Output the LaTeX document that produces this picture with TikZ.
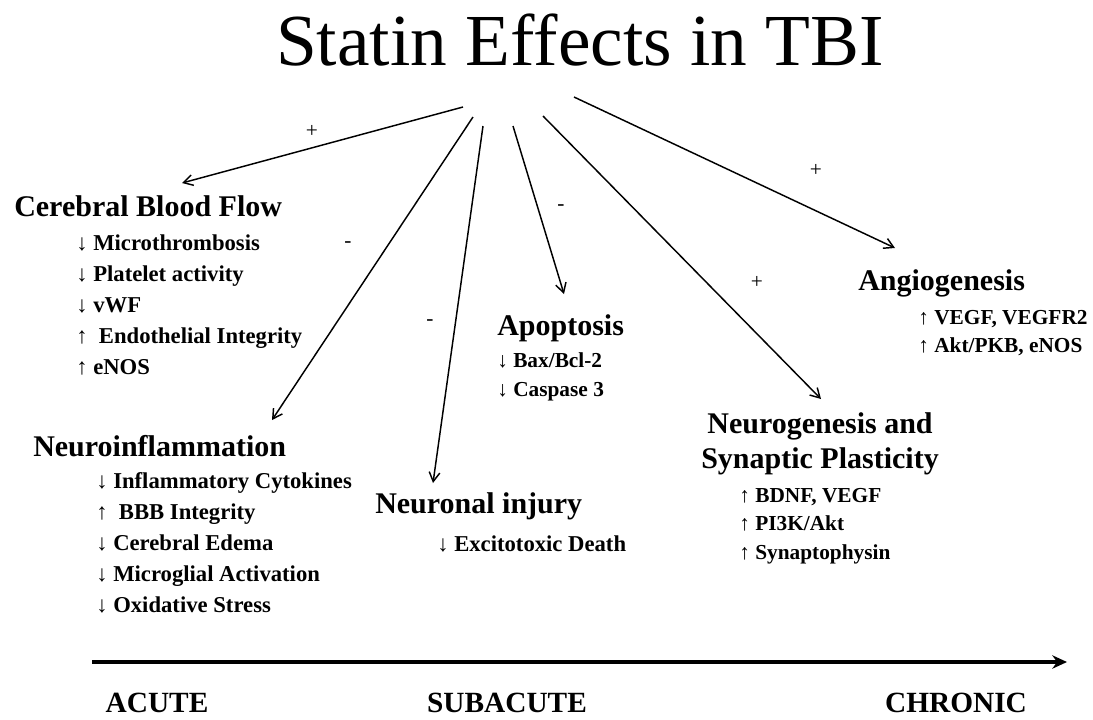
\documentclass[tikz,border=0pt]{standalone}
\usepackage{fontspec}
\setmainfont{Liberation Serif}
\usetikzlibrary{arrows.meta}
\newcommand{\ua}{{\mdseries ↑}}
\newcommand{\da}{{\mdseries ↓}}
\begin{document}
\begin{tikzpicture}[x=0.75pt,y=-0.75pt,
  titletext/.style={inner sep=0pt,anchor=base,font=\fontsize{55}{62}\selectfont},
  headtext/.style={inner sep=0pt,anchor=base west,font=\fontsize{22.5}{27}\selectfont\bfseries},
  itemtext/.style={inner sep=0pt,anchor=base west,font=\fontsize{17}{20}\selectfont\bfseries},
  smallitem/.style={inner sep=0pt,anchor=base west,font=\fontsize{16}{19}\selectfont\bfseries},
  signtext/.style={inner sep=0pt,font=\fontsize{16}{18}\selectfont},
  phasetext/.style={inner sep=0pt,anchor=base,font=\fontsize{22}{26}\selectfont\bfseries},
  effect/.style={line width=1.1pt,-{Straight Barb[length=7pt,width=8pt,line width=1.1pt]}},
  timeline/.style={line width=2.3pt,-{Stealth[length=11pt,width=10pt]}}]
\useasboundingbox (0,0) rectangle (1093,719);
\fill[white] (0,0) rectangle (1093,719);

\node[titletext] (title) at (580,65) {Statin Effects in TBI};

% headings
\node[headtext] (cbf) at (14,216) {Cerebral Blood Flow};
\node[itemtext] (cbf1) at (76,250) {\da\ Microthrombosis};
\node[itemtext] (cbf2) at (76,281) {\da\ Platelet activity};
\node[itemtext] (cbf3) at (76,312) {\da\ vWF};
\node[itemtext] (cbf4) at (76,343) {\ua\ \ Endothelial Integrity};
\node[itemtext] (cbf5) at (76,374) {\ua\ eNOS};

\node[headtext] (neuroinf) at (33,456) {Neuroinflammation};
\node[itemtext] (ni1) at (96,488) {\da\ Inflammatory Cytokines};
\node[itemtext] (ni2) at (96,519) {\ua\ \ BBB Integrity};
\node[itemtext] (ni3) at (96,550) {\da\ Cerebral Edema};
\node[itemtext] (ni4) at (96,581) {\da\ Microglial Activation};
\node[itemtext] (ni5) at (96,612) {\da\ Oxidative Stress};

\node[headtext] (injury) at (375,513) {Neuronal injury};
\node[itemtext] (inj1) at (437,551) {\da\ Excitotoxic Death};

\node[headtext] (apop) at (497,335) {Apoptosis};
\node[smallitem] (ap1) at (497,367) {\da\ Bax/Bcl-2};
\node[smallitem] (ap2) at (497,396) {\da\ Caspase 3};

\node[headtext] (angio) at (858,290) {Angiogenesis};
\node[smallitem] (an1) at (918,324) {\ua\ VEGF, VEGFR2};
\node[smallitem] (an2) at (918,352) {\ua\ Akt/PKB, eNOS};

\node[headtext,anchor=base] (neuro) at (820,433) {Neurogenesis and};
\node[headtext,anchor=base] (neurob) at (820,468) {Synaptic Plasticity};
\node[smallitem] (ng1) at (739,502) {\ua\ BDNF, VEGF};
\node[smallitem] (ng2) at (739,530) {\ua\ PI3K/Akt};
\node[smallitem] (ng3) at (739,559) {\ua\ Synaptophysin};

% connector end points
\coordinate (s1) at (463,107);
\coordinate (e1) at (182,183);
\coordinate (s2) at (473,117);
\coordinate (e2) at (272,420);
\coordinate (s3) at (483,126);
\coordinate (e3) at (433,483);
\coordinate (s4) at (513,126);
\coordinate (e4) at (564,294);
\coordinate (s5) at (543,116);
\coordinate (e5) at (821,399);
\coordinate (s6) at (574,97);
\coordinate (e6) at (895,248);

\draw[effect] (s1) -- (e1);
\draw[effect] (s2) -- (e2);
\draw[effect] (s3) -- (e3);
\draw[effect] (s4) -- (e4);
\draw[effect] (s5) -- (e5);
\draw[effect] (s6) -- (e6);

\node[signtext] (p1) at (312,131) {+};
\node[signtext] (m2) at (348,245) {-};
\node[signtext] (m3) at (430,323) {-};
\node[signtext] (m4) at (561,208) {-};
\node[signtext] (p5) at (757,282) {+};
\node[signtext] (p6) at (816,170) {+};

% timeline
\coordinate (t0) at (92,662);
\coordinate (t1) at (1067,662);
\draw[timeline] (t0) -- (t1);
\node[phasetext] (acute) at (157,712) {ACUTE};
\node[phasetext] (subacute) at (507,712) {SUBACUTE};
\node[phasetext] (chronic) at (956,712) {CHRONIC};
\end{tikzpicture}
\end{document}
